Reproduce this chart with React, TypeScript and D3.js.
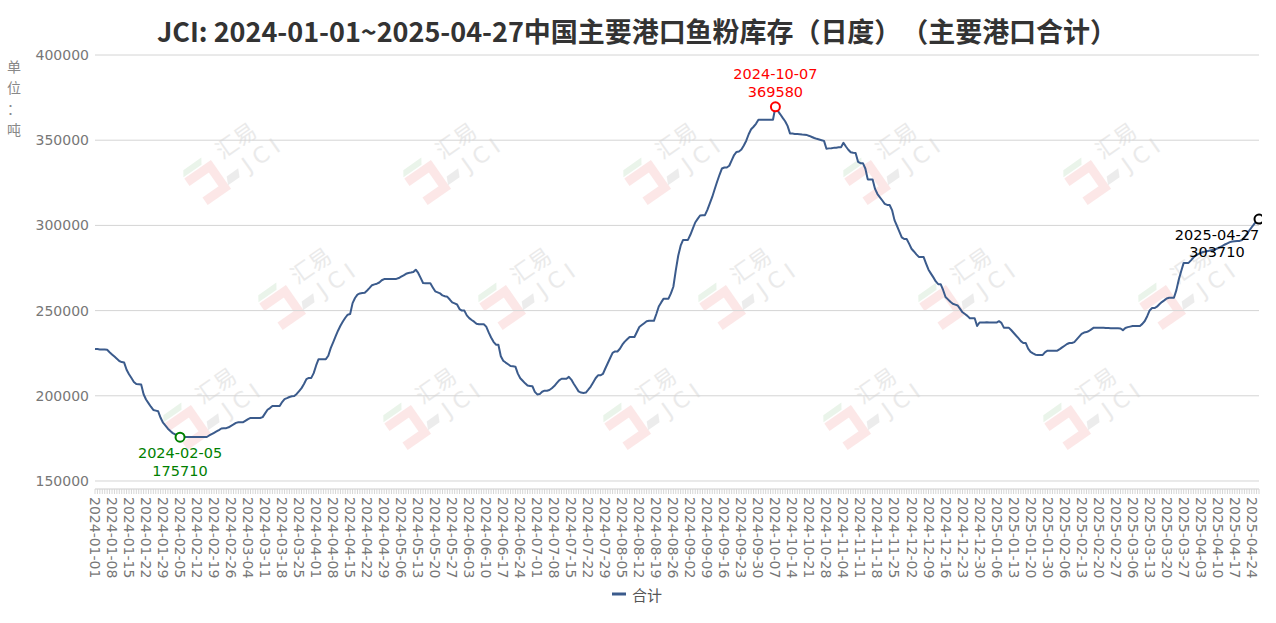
import React from "react";
import * as d3 from "d3";

const TITLE = "JCI: 2024-01-01~2025-04-27中国主要港口鱼粉库存（日度）（主要港口合计）";
const SERIES_NAME = "合计";
const UNIT_CHARS = ["单", "位", "：", "吨"];
const START_DATE = "2024-01-01";
const END_DATE = "2025-04-27";
const SKIPPED_DATES = ["2025-01-27", "2025-01-28", "2025-01-29"];
const Y_TICKS = [150000, 200000, 250000, 300000, 350000, 400000];
const Y_DOMAIN = [145300, 400000];
const LABEL_EVERY = 7;

// Daily stock (tonnes), one row per labelled week
const stock: number[] = [
  227500, 227400, 227200, 227200, 227100, 227000, 225600,
  224300, 223000, 221700, 220400, 219800, 219500, 215300,
  212600, 210400, 208100, 206900, 206800, 206600, 200900,
  197800, 195700, 193600, 191700, 191300, 190900, 187100,
  184200, 182500, 180700, 179300, 178100, 177300, 176500,
  175710, 175800, 175800, 175800, 175800, 175800, 175800,
  175800, 175800, 175800, 175800, 175800, 176700, 177500,
  178300, 179100, 179900, 180800, 181000, 181000, 181500,
  182400, 183200, 184100, 184500, 184500, 184500, 185400,
  186300, 187000, 187000, 187000, 187000, 187000, 187500,
  189700, 191800, 192800, 194000, 194000, 194000, 194000,
  196300, 198000, 198600, 199300, 199700, 199900, 201100,
  202800, 204500, 206900, 209800, 210500, 210500, 213300,
  217800, 221500, 221500, 221500, 221500, 223500, 228000,
  231300, 234800, 238200, 241100, 243600, 245800, 247600,
  248000, 254400, 257400, 259400, 260100, 260300, 260500,
  261800, 263300, 264900, 265400, 265800, 266500, 267800,
  268500, 268500, 268600, 268600, 268600, 268600, 269100,
  269900, 270700, 271600, 272100, 272300, 272600, 274000,
  272100, 269200, 266200, 266000, 266000, 266000, 263600,
  261300, 260700, 260100, 258900, 258400, 258100, 256500,
  254800, 254200, 253600, 250900, 250000, 250000, 247200,
  245600, 244500, 243500, 242300, 242000, 242000, 242000,
  240600, 237200, 234200, 231700, 230000, 230000, 223200,
  220600, 219500, 218500, 217500, 217300, 217100, 213000,
  210300, 208800, 207300, 206000, 205800, 205600, 202300,
  200800, 201000, 202400, 203000, 203000, 203400, 204400,
  205700, 207400, 209100, 210000, 210000, 210000, 211100,
  209500, 207100, 204900, 202600, 201900, 201700, 201900,
  203600, 205400, 207800, 210300, 212000, 212000, 212800,
  216000, 219100, 222200, 225200, 226000, 226000, 227600,
  230000, 231800, 233200, 234500, 234500, 234500, 237400,
  240400, 241500, 242600, 243700, 244000, 244000, 244000,
  248000, 252400, 254800, 257000, 257000, 257000, 260100,
  264000, 273600, 282200, 288100, 291500, 291500, 291500,
  294500, 298100, 301700, 303800, 305800, 306000, 306000,
  309100, 312900, 316700, 321200, 325600, 329700, 333400,
  334000, 334000, 335000, 338200, 341300, 343100, 343400,
  344500, 346900, 349700, 353500, 356400, 357900, 359600,
  362000, 362000, 362000, 362000, 362000, 362000, 362000,
  369580, 367200, 365200, 363100, 361100, 358400, 354000,
  353900, 353700, 353600, 353500, 353300, 353200, 353000,
  352500, 351900, 351300, 350800, 350400, 350000, 349600,
  345000, 345200, 345300, 345500, 345600, 345800, 345900,
  348500, 346300, 344400, 342900, 342600, 342500, 337300,
  336500, 336500, 333400, 327000, 327000, 327000, 321400,
  318400, 316500, 314600, 312600, 312000, 312000, 309000,
  303100, 299800, 296400, 293000, 292000, 292000, 289300,
  286300, 284700, 283000, 281500, 281500, 281400, 277600,
  274000, 271700, 269500, 267100, 265500, 265500, 262100,
  258000, 256600, 255200, 254000, 253500, 253000, 251000,
  249000, 248000, 246900, 245500, 245500, 245500, 241000,
  243000, 243000, 243000, 243100, 243000, 243000, 243000,
  243000, 243800, 242800, 240000, 240000, 240000, 238600,
  237000, 235400, 233800, 232100, 231000, 231000, 227700,
  225800, 224900, 224100, 224000, 224000, 224000, 225600,
  226500, 226500, 226500, 226500, 226500, 227400, 228400,
  229400, 230400, 231000, 231000, 231500, 233100, 234700,
  236300, 237100, 237400, 238000, 239000, 240000, 240000,
  240000, 239900, 239900, 239800, 239800, 239700, 239700,
  239600, 239600, 239500, 238500, 239800, 240300, 240600,
  240900, 241000, 241000, 241000, 242200, 243900, 246700,
  250100, 251500, 251500, 252300, 253700, 255000, 256000,
  257100, 257500, 257500, 257500, 262000, 268200, 273200,
  278000, 278000, 278000, 279500, 281100, 282500, 283100,
  283800, 284400, 284700, 285000, 285300, 285600, 285900,
  286600, 287300, 288000, 288800, 289500, 290200, 290600,
  290700, 290800, 290900, 291400, 292900, 295000, 296900,
  298900, 300800, 302400, 303710,
];

const WATERMARKS: [number, number][] = [
  [240, 150], [460, 150], [680, 150], [900, 150], [1120, 150],
  [315, 275], [535, 275], [755, 275], [975, 275], [1195, 275],
  [220, 395], [440, 395], [660, 395], [880, 395], [1100, 395],
];

const fmt = d3.utcFormat("%Y-%m-%d");
const parse = d3.utcParse("%Y-%m-%d");
const dates: string[] = d3
  .utcDay.range(parse(START_DATE)!, d3.utcDay.offset(parse(END_DATE)!, 1))
  .map((d) => fmt(d))
  .filter((s) => !SKIPPED_DATES.includes(s));

const W = 1276;
const H = 623;
const X0 = 95;
const X1 = 1259;
const YTOP = 55;
const YBOT = 489;

const AXIS_FONT = "'DejaVu Sans', sans-serif";
const CJK_FONT = "'Noto Sans CJK SC', 'Noto Sans', sans-serif";

function Watermark({ x, y }: { x: number; y: number }) {
  return (
    <g transform={`translate(${x},${y}) rotate(-35)`} opacity={0.75}>
      <path d="M-62,-4 L-34,-4 L-34,22 L-58,22" fill="none" stroke="#fbe0e0" strokeWidth={9} />
      <path d="M-58,-16 L-36,-16 L-40,-10 L-62,-10 Z" fill="#e3f1e3" />
      <path d="M-26,14 L-12,14 L-16,22 L-30,22 Z" fill="#e6e6e6" />
      <text x={-20} y={-2} fontSize={22} fill="#e4e4e4" fontFamily={CJK_FONT}>汇易</text>
      <text x={-6} y={24} fontSize={22} fill="#e4e4e4" fontFamily={AXIS_FONT} letterSpacing={6}>JCI</text>
    </g>
  );
}

export default function App() {
  const x = d3.scaleLinear().domain([0, dates.length - 1]).range([X0, X1]);
  const y = d3.scaleLinear().domain(Y_DOMAIN).range([YBOT, YTOP]);
  const line = d3
    .line<number>()
    .x((_, i) => x(i))
    .y((d) => y(d));

  const iMin = d3.minIndex(stock);
  const iMax = d3.maxIndex(stock);
  const iLast = stock.length - 1;

  const labelIdx = d3.range(0, dates.length, LABEL_EVERY);

  return (
    <svg
      width={W}
      height={H}
      style={{ position: "absolute", left: 0, top: 0, background: "#fff" }}
    >
      <defs>
        <clipPath id="plotclip">
          <rect x={0} y={0} width={1262} height={H} />
        </clipPath>
      </defs>
      <rect x={0} y={0} width={W} height={H} fill="#fff" />

      {WATERMARKS.map(([wx, wy], i) => (
        <Watermark key={i} x={wx} y={wy} />
      ))}

      <text
        x={637}
        y={42}
        textAnchor="middle"
        fontSize={27}
        fontWeight="bold"
        fill="#333"
        fontFamily={CJK_FONT}
        textLength={960}
        lengthAdjust="spacing"
        style={{ textSpacingTrim: "space-all", fontFeatureSettings: "'halt' 0, 'chws' 0" } as any}
      >
        {TITLE}
      </text>

      {UNIT_CHARS.map((c, i) => (
        <text
          key={i}
          x={14}
          y={72 + i * 21}
          textAnchor="middle"
          fontSize={14}
          fill="#888"
          fontFamily={CJK_FONT}
        >
          {c}
        </text>
      ))}

      {Y_TICKS.map((t) => (
        <g key={t}>
          <line x1={X0} x2={X1} y1={y(t)} y2={y(t)} stroke="#d4d4d4" strokeWidth={1} />
          <text
            x={89}
            y={y(t)}
            textAnchor="end"
            dominantBaseline="central"
            fontSize={14}
            fill="#777"
            fontFamily={AXIS_FONT}
          >
            {t}
          </text>
        </g>
      ))}

      <line x1={X0} x2={X1} y1={YBOT} y2={YBOT} stroke="#ccc" strokeWidth={1} />
      {dates.map((_, i) => (
        <line key={i} x1={x(i)} x2={x(i)} y1={YBOT} y2={YBOT + 5} stroke="#d6d6d6" strokeWidth={1} />
      ))}
      {labelIdx.map((i) => (
        <text
          key={i}
          transform={`translate(${x(i)},${YBOT + 8}) rotate(90)`}
          dominantBaseline="central"
          fontSize={14}
          fill="#777"
          fontFamily={AXIS_FONT}
        >
          {dates[i]}
        </text>
      ))}

      <path d={line(stock) ?? ""} fill="none" stroke="#3b5b8c" strokeWidth={2} strokeLinejoin="round" />

      {/* min */}
      <circle cx={x(iMin)} cy={y(stock[iMin])} r={4.5} fill="#fff" stroke="#008000" strokeWidth={2} />
      <text x={x(iMin)} y={458} textAnchor="middle" fontSize={14.5} fill="#008000" fontFamily={AXIS_FONT}>
        {dates[iMin]}
      </text>
      <text x={x(iMin)} y={476} textAnchor="middle" fontSize={14.5} fill="#008000" fontFamily={AXIS_FONT}>
        {stock[iMin]}
      </text>

      {/* max */}
      <circle cx={x(iMax)} cy={y(stock[iMax])} r={4.5} fill="#fff" stroke="#ff0000" strokeWidth={2} />
      <text x={x(iMax)} y={79} textAnchor="middle" fontSize={14.5} fill="#ff0000" fontFamily={AXIS_FONT}>
        {dates[iMax]}
      </text>
      <text x={x(iMax)} y={97} textAnchor="middle" fontSize={14.5} fill="#ff0000" fontFamily={AXIS_FONT}>
        {stock[iMax]}
      </text>

      {/* last */}
      <g clipPath="url(#plotclip)">
        <circle cx={x(iLast)} cy={y(stock[iLast])} r={4.5} fill="#fff" stroke="#000" strokeWidth={2} />
      </g>
      <text x={1217} y={240} textAnchor="middle" fontSize={14.5} fill="#000" fontFamily={AXIS_FONT}>
        {dates[iLast]}
      </text>
      <text x={1217} y={257} textAnchor="middle" fontSize={14.5} fill="#000" fontFamily={AXIS_FONT}>
        {stock[iLast]}
      </text>

      {/* legend */}
      <line x1={612} x2={626} y1={594} y2={594} stroke="#3b5b8c" strokeWidth={3} />
      <text x={632} y={594} dominantBaseline="central" fontSize={15} fill="#555" fontFamily={CJK_FONT}>
        {SERIES_NAME}
      </text>
    </svg>
  );
}
